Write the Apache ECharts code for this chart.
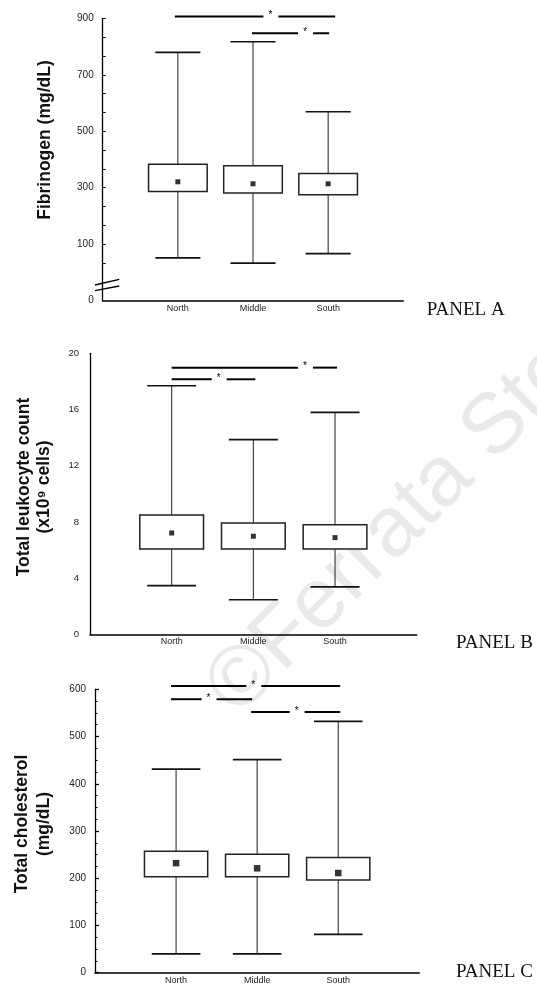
<!DOCTYPE html>
<html>
<head>
<meta charset="utf-8">
<script src="https://cdn.jsdelivr.net/npm/echarts@6/dist/echarts.min.js"></script>
<style>html,body{margin:0;padding:0;background:#fff}#c{width:537px;height:990px}</style>
</head>
<body>
<div id="c"></div>
<script>
// ---------- DATA ----------
const categories = ['North', 'Middle', 'South'];

// Panel A – Fibrinogen (mg/dL)
const fibLow  = [52, 33, 67];
const fibQ1   = [287, 281, 275];
const fibQ3   = [383, 378, 350];
const fibHigh = [779, 817, 569];
const fibMean = [321, 314, 314];
const fibSig  = [[0, 2], [1, 2]];          // compared groups (indices)
const fibTicks = ['0', '100', '300', '500', '700', '900'];

// Panel B – Total leukocyte count (x10^9 cells)
const leuLow  = [3.46, 2.46, 3.37];
const leuQ1   = [6.07, 6.07, 6.07];
const leuQ3   = [8.49, 7.92, 7.80];
const leuHigh = [17.69, 13.85, 15.80];
const leuMean = [7.21, 6.98, 6.88];
const leuSig  = [[0, 2], [0, 1]];

// Panel C – Total cholesterol (mg/dL)
const cholLow  = [40, 40, 81];
const cholQ1   = [203, 203, 196];
const cholQ3   = [257, 251, 244];
const cholHigh = [431, 451, 532];
const cholMean = [232, 221, 211];
const cholSig  = [[0, 2], [0, 1], [1, 2]];

// ---------- LAYOUT ----------
const xCats = [''].concat(categories, ['']);
const sigLevels = [[906, 847], [18.98, 18.15], [607, 579, 552]];
const sigStar = [[0.59, 0.675], [0.8, 0.55], [0.48, 0.45, 0.5]];
const sigDx = [[[-3, 7], [-1, 1]], [[0, 2], [0, 2]], [[-5, 2], [-5, -5], [-6, 2]]];

const FONT = 'Liberation Sans, Arial, sans-serif';
const chart = echarts.init(document.getElementById('c'), null, {renderer: 'canvas'});

function xAxis(gi) {
  return {
    type: 'category', gridIndex: gi, data: xCats, boundaryGap: false,
    axisLine: {onZero: false, lineStyle: {color: '#000', width: 1.6}},
    axisTick: {show: false},
    axisLabel: {interval: 0, fontSize: 9, color: '#222', margin: 3, fontFamily: FONT},
    splitLine: {show: false}
  };
}

function boxSeries(gi, low, q1, q3, high) {
  return [{
    type: 'custom', xAxisIndex: gi, yAxisIndex: gi, z: 3,
    encode: {x: 0, y: [1, 2, 3, 4]},
    data: categories.map((c, i) => [i + 1, low[i], q1[i], q3[i], high[i]]),
    renderItem: function (params, api) {
      const x = api.value(0);
      const step = api.coord([2, 0])[0] - api.coord([1, 0])[0];
      const bw = step * 0.78, cw = step * 0.6;
      const pl = api.coord([x, api.value(1)]);
      const p1 = api.coord([x, api.value(2)]);
      const p3 = api.coord([x, api.value(3)]);
      const ph = api.coord([x, api.value(4)]);
      const cx = pl[0];
      const wStyle = {stroke: '#333', lineWidth: 1.1};
      const cStyle = {stroke: '#111', lineWidth: 1.7};
      return {type: 'group', children: [
        {type: 'line', shape: {x1: cx, y1: ph[1], x2: cx, y2: p3[1]}, style: wStyle},
        {type: 'line', shape: {x1: cx, y1: p1[1], x2: cx, y2: pl[1]}, style: wStyle},
        {type: 'line', shape: {x1: cx - cw / 2, y1: ph[1], x2: cx + cw / 2, y2: ph[1]}, style: cStyle},
        {type: 'line', shape: {x1: cx - cw / 2, y1: pl[1], x2: cx + cw / 2, y2: pl[1]}, style: cStyle},
        {type: 'rect', shape: {x: cx - bw / 2, y: p3[1], width: bw, height: p1[1] - p3[1]},
          style: {fill: '#fff', stroke: '#222', lineWidth: 1.5}}
      ]};
    }
  }];
}

function meanSeries(gi, mean, size) {
  return {
    type: 'scatter', xAxisIndex: gi, yAxisIndex: gi, z: 5,
    symbol: 'rect', symbolSize: size, silent: true,
    itemStyle: {color: '#000'},
    data: categories.map((c, i) => [i + 1, mean[i]])
  };
}

function sigSeries(gi, pairs) {
  return {
    type: 'custom', xAxisIndex: gi, yAxisIndex: gi, z: 4, clip: false,
    encode: {x: [0, 1], y: 2},
    data: pairs.map((p, k) => [p[0] + 1, p[1] + 1, sigLevels[gi][k], k]),
    renderItem: function (params, api) {
      const k = api.value(3);
      const a = api.coord([api.value(0), api.value(2)]);
      const b = api.coord([api.value(1), api.value(2)]);
      const x1 = a[0] + sigDx[gi][k][0], x2 = b[0] + sigDx[gi][k][1], y = a[1];
      const xs = x1 + sigStar[gi][k] * (x2 - x1);
      const ls = {stroke: '#000', lineWidth: 2};
      return {type: 'group', children: [
        {type: 'line', shape: {x1: x1, y1: y, x2: xs - 6, y2: y}, style: ls},
        {type: 'line', shape: {x1: xs + 9, y1: y, x2: x2, y2: y}, style: ls},
        {type: 'text', x: xs + 1, y: y - 1, style: {text: '*', fontSize: 10, fontFamily: FONT,
          fill: '#000', align: 'center', verticalAlign: 'middle'}}
      ]};
    }
  };
}

const aTickVals = [];
for (let v = 100 - 200 / 3; v <= 900.01; v += 200 / 3) aTickVals.push(v);

const option = {
  animation: false,
  backgroundColor: '#fff',
  grid: [
    {left: 102.7, top: 18.3, width: 300.6, height: 282.4},
    {left: 90, top: 353.3, width: 326.7, height: 281},
    {left: 95, top: 689.3, width: 324.3, height: 283.4}
  ],
  xAxis: [xAxis(0), xAxis(1), xAxis(2)],
  yAxis: [
    {
      type: 'value', gridIndex: 0, min: -100, max: 900, interval: 200,
      axisLine: {show: true, onZero: false, lineStyle: {color: '#000', width: 1.3}},
      axisTick: {show: true, inside: true, length: 3, customValues: aTickVals, lineStyle: {color: '#000'}},
      axisLabel: {fontSize: 10, color: '#222', margin: 9, fontFamily: FONT, padding: [0, 0, 6, 0],
        customValues: [-100, 100, 300, 500, 700, 900],
        formatter: function (v) { return fibTicks[Math.round((v + 100) / 200)]; }},
      splitLine: {show: false}
    },
    {
      type: 'value', gridIndex: 1, min: 0, max: 20, interval: 4,
      axisLine: {show: true, onZero: false, lineStyle: {color: '#000', width: 1.3}},
      axisTick: {show: false},
      axisLabel: {fontSize: 9.5, color: '#222', margin: 11, fontFamily: FONT, padding: [0, 0, 10, 0]},
      splitLine: {show: false}
    },
    {
      type: 'value', gridIndex: 2, min: 0, max: 600, interval: 100,
      axisLine: {show: true, onZero: false, lineStyle: {color: '#000', width: 1.3}},
      axisTick: {show: true, inside: true, length: 4, lineStyle: {color: '#000', width: 1.3}},
      minorTick: {show: true, splitNumber: 4, length: 2.5, lineStyle: {color: '#000'}},
      axisLabel: {fontSize: 10, color: '#222', margin: 9, fontFamily: FONT, padding: [0, 0, 9, 0]},
      splitLine: {show: false}
    }
  ],
  graphic: [
    {type: 'text', x: 221.7, y: 701.3, rotation: Math.PI / 4, z: -10, silent: true,
      style: {text: '©Ferrata Storti Foundation', fontSize: 85, fontFamily: FONT,
        fill: '#e9e9e9', align: 'left', verticalAlign: 'middle'}},
    {type: 'line', shape: {x1: 95, y1: 285, x2: 119.3, y2: 279.3}, style: {stroke: '#000', lineWidth: 1.3}},
    {type: 'line', shape: {x1: 95, y1: 290.7, x2: 119.3, y2: 286}, style: {stroke: '#000', lineWidth: 1.3}},
    {type: 'text', x: 45, y: 140, rotation: Math.PI / 2,
      style: {text: 'Fibrinogen (mg/dL)', fontSize: 17.5, fontWeight: 'bold', fontFamily: FONT,
        fill: '#111', align: 'center', verticalAlign: 'middle'}},
    {type: 'text', x: 34, y: 487, rotation: Math.PI / 2,
      style: {text: 'Total leukocyte count\n(x10⁹ cells)', fontSize: 17.5, lineHeight: 20, fontWeight: 'bold',
        fontFamily: FONT, fill: '#111', align: 'center', verticalAlign: 'middle'}},
    {type: 'text', x: 33.5, y: 824, rotation: Math.PI / 2,
      style: {text: 'Total cholesterol\n(mg/dL)', fontSize: 17.5, lineHeight: 22, fontWeight: 'bold',
        fontFamily: FONT, fill: '#111', align: 'center', verticalAlign: 'middle'}},
    {type: 'text', x: 426.7, y: 310, style: {text: 'PANEL A', fontSize: 19,
      fontFamily: 'Liberation Serif, Times New Roman, serif', fill: '#111', verticalAlign: 'middle'}},
    {type: 'text', x: 456, y: 643, style: {text: 'PANEL B', fontSize: 19,
      fontFamily: 'Liberation Serif, Times New Roman, serif', fill: '#111', verticalAlign: 'middle'}},
    {type: 'text', x: 456, y: 972, style: {text: 'PANEL C', fontSize: 19,
      fontFamily: 'Liberation Serif, Times New Roman, serif', fill: '#111', verticalAlign: 'middle'}}
  ],
  series: [].concat(
    boxSeries(0, fibLow, fibQ1, fibQ3, fibHigh),
    [meanSeries(0, fibMean, 5), sigSeries(0, fibSig)],
    boxSeries(1, leuLow, leuQ1, leuQ3, leuHigh),
    [meanSeries(1, leuMean, 5), sigSeries(1, leuSig)],
    boxSeries(2, cholLow, cholQ1, cholQ3, cholHigh),
    [meanSeries(2, cholMean, 6.5), sigSeries(2, cholSig)]
  )
};
chart.setOption(option);
</script>
</body>
</html>
